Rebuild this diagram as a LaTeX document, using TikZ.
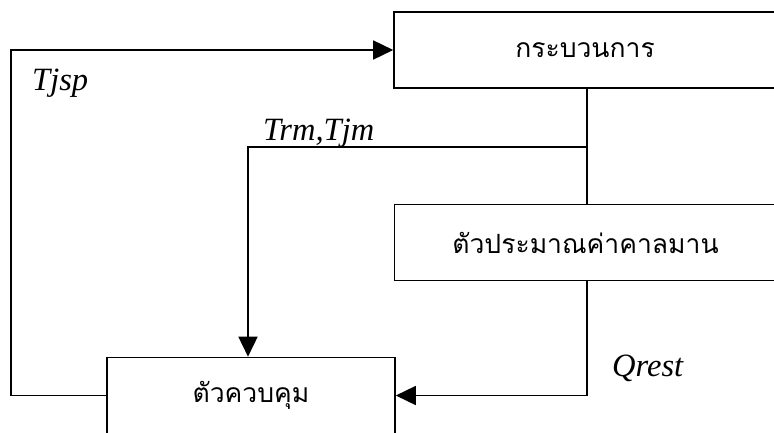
\documentclass[tikz,border=0pt]{standalone}
\usepackage{fontspec}
\setmainfont{Liberation Serif}
\newfontfamily\thaifont[Script=Thai]{Loma}
\usetikzlibrary{arrows.meta}
\begin{document}
\begin{tikzpicture}[x=1pt,y=-1pt,
  blk/.style={draw, line width=1.6pt, minimum width=382pt, minimum height=76pt, inner sep=0pt, font=\thaifont\fontsize{26.5}{30}\selectfont},
  wire/.style={line width=1.6pt},
  arr/.style={wire, -{Triangle[length=20pt,width=19pt]}},
  lbl/.style={font=\itshape\fontsize{32.5}{36}\selectfont, anchor=base west, inner sep=0pt}]
\useasboundingbox (0,0) rectangle (774,432);
\clip (0,0) rectangle (774,432);
\fill[white] (0,0) rectangle (774,432);
\node[blk] (proc) at (585,50) {กระบวนการ};
\node[blk] (kal) at (585.5,242.5) {ตัวประมาณค่าคาลมาน};
\node[blk, minimum width=288pt] (ctrl) at (251,395.5) {ตัวควบคุม};
\coordinate (j) at (587,147);
\coordinate (tm) at (248,147);
\coordinate (fb) at (11,50);
\draw[wire] (proc.south -| j) -- (kal.north -| j);
\draw[arr] (j) -- (tm) -- (tm |- ctrl.north);
\draw[arr] (kal.south -| j) |- (ctrl.east);
\draw[arr] (ctrl.west) -| (fb) -- (proc.west);
\node[lbl] (tjsp) at (32,90) {Tjsp};
\node[lbl] (trm) at (263,140) {Trm,Tjm};
\node[lbl] (qrest) at (612,376) {Qrest};
\end{tikzpicture}
\end{document}
